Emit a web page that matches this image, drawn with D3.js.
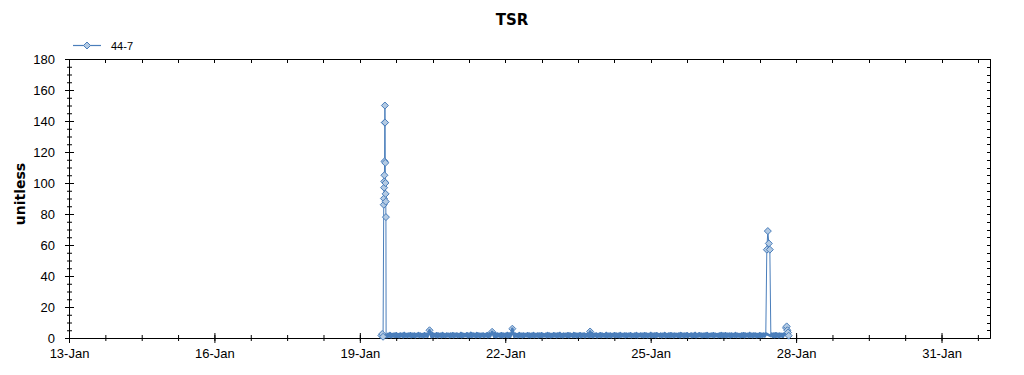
<!DOCTYPE html>
<meta charset="utf-8">
<script src="https://d3js.org/d3.v7.min.js"></script>
<style>
body { margin: 0; background: #fff; }
svg { font-family: 'Liberation Sans', Arial, sans-serif; }
</style>
<body>
<div id="chart"></div>
<script>
// series "44-7"
var seriesName = '44-7';

// first spike, irregular times
var spike1Times = ['19-Jan 10:40', '19-Jan 11:05', '19-Jan 11:30', '19-Jan 11:50', '19-Jan 11:55', '19-Jan 12:00',
    '19-Jan 12:05', '19-Jan 12:10', '19-Jan 12:15', '19-Jan 12:20', '19-Jan 12:25', '19-Jan 12:30',
    '19-Jan 12:35', '19-Jan 12:40', '19-Jan 12:45', '19-Jan 12:50', '19-Jan 12:55'];
var spike1Values = [1.6, 2.6, 0.8, 86, 90, 97, 101, 105, 114, 139, 150, 139, 113, 100, 93, 88, 78];

// half-hourly readings from 19-Jan 13:00 (one row per day)
var bandStart = '19-Jan 13:00';
var bandValues = [
    2.9,0.6,2.7,0.9,3.1,0.5,2.6,1.0, 2.8,0.7,3.0,0.8,2.5,0.6,2.9,1.1, 2.7,0.5,3.2,0.9,2.6,0.7,2.8,1.0,
    3.0,0.6,2.7,0.8,2.9,0.5,2.6,1.1, 3.1,0.7,2.8,0.9,2.5,0.6,3.0,1.0, 2.7,0.8,2.9,5.0,2.6,0.6,3.1,0.9,
    2.6,0.9,3.0,0.5,2.8,1.0,2.7,0.6, 3.1,0.8,2.5,0.7,2.9,1.1,2.6,0.5, 2.8,0.9,3.0,0.6,2.7,1.0,2.9,0.7,
    2.5,0.8,3.2,0.6,2.8,0.9,2.6,1.1, 3.0,0.5,2.7,0.8,3.3,0.7,2.9,1.0, 2.6,0.6,3.1,0.9,2.8,0.5,2.7,1.0,
    2.9,0.7,2.6,1.0,3.0,0.6,2.8,0.9, 2.7,4.0,2.5,0.8,3.1,0.6,2.9,1.1, 2.6,0.7,3.0,0.5,2.8,0.9,2.7,1.0,
    3.2,0.6,2.9,0.8,2.6,6.0,3.0,0.7, 2.8,1.0,2.5,0.6,3.1,0.9,2.7,0.5, 2.9,0.8,2.6,1.1,3.0,0.7,2.8,0.6,
    2.7,0.9,3.1,0.6,2.6,1.0,2.9,0.5, 2.8,0.8,3.0,0.7,2.5,1.1,2.7,0.6, 3.1,0.9,2.8,0.5,2.6,0.8,3.0,1.0,
    2.7,0.6,2.9,0.9,3.2,0.7,2.6,0.5, 2.8,1.0,2.7,0.8,3.0,0.6,2.9,1.1, 2.5,0.7,3.1,0.9,2.8,0.6,2.7,1.0,
    3.0,0.6,2.7,0.9,2.9,0.5,2.6,1.0, 2.8,0.7,4.2,0.8,3.1,0.6,2.7,1.1, 2.9,0.5,2.6,0.9,3.0,0.7,2.8,1.0,
    2.5,0.8,3.2,0.6,2.7,0.9,2.9,0.5, 2.6,1.1,3.0,0.7,2.8,0.8,2.7,0.6, 3.1,0.9,2.6,1.0,2.9,0.5,2.8,0.8,
    2.7,1.0,3.0,0.6,2.5,0.9,2.8,0.7, 3.1,0.5,2.6,1.1,2.9,0.8,2.7,0.6, 3.0,0.9,2.8,0.5,2.6,1.0,3.2,0.7,
    2.7,0.8,2.9,0.6,3.0,1.1,2.5,0.9, 2.8,0.6,2.7,1.0,3.1,0.5,2.6,0.8, 2.9,0.7,3.0,0.9,2.7,0.6,2.8,1.0,
    2.6,0.8,2.9,0.5,3.1,1.0,2.7,0.6, 2.8,0.9,3.0,0.7,2.5,1.1,2.9,0.6, 2.7,0.8,3.2,0.5,2.6,0.9,3.0,1.0,
    2.8,0.6,2.7,0.8,2.9,0.7,3.1,0.5, 2.6,1.0,2.8,0.9,3.0,0.6,2.7,1.1, 2.5,0.7,2.9,0.8,3.1,0.6,2.8,0.9,
    3.0,0.6,2.7,1.0,2.8,0.5,2.9,0.8, 2.6,0.9,3.1,0.7,2.7,1.0,2.5,0.6, 2.9,0.8,3.0,0.5,2.8,1.1,2.6,0.7,
    3.2,0.9,2.7,0.6,2.9,1.0,2.8,0.5, 2.6,0.8,3.0,0.7,2.7,0.9,2.8,1.0, 2.9,57,69,61,57,1.2,2.8,0.7,
    2.9,0.6,3.0,0.9,2.7,0.5,2.8,1.0,2.6,0.8,2.9,1.2
];

// last few readings
var tailTimes = ['27-Jan 19:00', '27-Jan 19:20', '27-Jan 19:40', '27-Jan 20:00', '27-Jan 20:20'];
var tailValues = [6.5, 7.5, 5.0, 3.5, 1.5];

var xTickLabels = ['13-Jan', '16-Jan', '19-Jan', '22-Jan', '25-Jan', '28-Jan', '31-Jan'];
var yTickValues = [0, 20, 40, 60, 80, 100, 120, 140, 160, 180];

var parseTime = d3.timeParse('%d-%b %H:%M');
var parseDay = d3.timeParse('%d-%b');

// build the series
var data = [];
spike1Times.forEach(function(t, i) {
    data.push({t: parseTime(t), v: spike1Values[i], top: true});
});
var t0 = parseTime(bandStart);
var band = [];
bandValues.forEach(function(v, i) {
    var p = {t: d3.timeMinute.offset(t0, 30 * i), v: v, top: v > 20, under: v >= 4 && v <= 20};
    data.push(p);
    band.push(p);
});
tailTimes.forEach(function(t, i) {
    data.push({t: parseTime(t), v: tailValues[i], top: true});
});

var margin = {top: 59, right: 34, bottom: 37, left: 69};
var W = 1024, H = 375;
var w = W - margin.left - margin.right;
var h = H - margin.top - margin.bottom;

var svg = d3.select('#chart').append('svg')
    .attr('width', W)
    .attr('height', H);

var x = d3.scaleTime()
    .domain([parseDay('13-Jan'), parseDay('1-Feb')])
    .range([margin.left, margin.left + w]);

var y = d3.scaleLinear()
    .domain([0, 180])
    .range([margin.top + h, margin.top]);

var lineColor = '#4a7ebb';
var markFill = '#b3cae3';

// minor tick positions
var xMinor = [];
for (var d = x.domain()[0]; d <= x.domain()[1]; d = d3.timeHour.offset(d, 18)) xMinor.push(d);
var yMinor = d3.range(0, 181, 5);
var xMajor = xTickLabels.map(function(s) { return parseDay(s); });

// title
svg.append('text')
    .text('TSR')
    .attr('x', 512)
    .attr('y', 25)
    .attr('text-anchor', 'middle')
    .style('font', 'bold 15px "DejaVu Sans", sans-serif');

// y label
svg.append('text')
    .text('unitless')
    .attr('transform', 'translate(25,194) rotate(-90)')
    .attr('text-anchor', 'middle')
    .style('font', 'bold 14px "DejaVu Sans", sans-serif');

// frame: top and right borders with inward ticks
var frame = svg.append('g').attr('stroke', '#000').attr('stroke-width', 1);
frame.append('line')
    .attr('x1', margin.left).attr('x2', margin.left + w + 0.5)
    .attr('y1', margin.top + 0.5).attr('y2', margin.top + 0.5);
frame.append('line')
    .attr('x1', margin.left + w + 0.5).attr('x2', margin.left + w + 0.5)
    .attr('y1', margin.top).attr('y2', margin.top + h + 0.5);
frame.selectAll('.tt')
    .data(xMinor)
    .enter()
    .append('line')
    .attr('x1', function(d) { return Math.round(x(d)) + 0.5; })
    .attr('x2', function(d) { return Math.round(x(d)) + 0.5; })
    .attr('y1', margin.top)
    .attr('y2', margin.top + 4);
frame.selectAll('.rt')
    .data(yMinor)
    .enter()
    .append('line')
    .attr('y1', function(d) { return Math.round(y(d)) + 0.5; })
    .attr('y2', function(d) { return Math.round(y(d)) + 0.5; })
    .attr('x1', margin.left + w - 3)
    .attr('x2', margin.left + w + 0.5);

// x axis
var xMinorAxis = svg.append('g')
    .attr('transform', 'translate(0,' + (margin.top + h) + ')')
    .call(d3.axisBottom(x).tickValues(xMinor).tickSize(3).tickFormat(''));
xMinorAxis.select('.domain').remove();
xMinorAxis.selectAll('.tick line').attr('y1', -3);

var xAxis = svg.append('g')
    .attr('transform', 'translate(0,' + (margin.top + h) + ')')
    .call(d3.axisBottom(x).tickValues(xMajor).tickSize(5).tickSizeOuter(0).tickFormat(d3.timeFormat('%d-%b')));
xAxis.selectAll('.tick line').attr('y1', -5);
xAxis.selectAll('text')
    .attr('y', 11)
    .style('font', '13px "Liberation Sans", Arial, sans-serif')
    .attr('fill', '#000');

// y axis
var yMinorAxis = svg.append('g')
    .attr('transform', 'translate(' + margin.left + ',0)')
    .call(d3.axisLeft(y).tickValues(yMinor).tickSize(2).tickFormat(''));
yMinorAxis.select('.domain').remove();
yMinorAxis.selectAll('.tick line').attr('x1', 3);

var yAxis = svg.append('g')
    .attr('transform', 'translate(' + margin.left + ',0)')
    .call(d3.axisLeft(y).tickValues(yTickValues).tickSize(4).tickSizeOuter(0));
yAxis.selectAll('.tick line').attr('x1', 5);
yAxis.selectAll('text')
    .attr('x', -14)
    .style('font', '13px "Liberation Sans", Arial, sans-serif')
    .attr('fill', '#000');

var diamond = 'M0,-3.5L3.5,0L0,3.5L-3.5,0Z';

function markers(sel) {
    sel.append('path')
        .attr('d', diamond)
        .attr('transform', function(d) { return 'translate(' + x(d.t) + ',' + y(d.v) + ')'; })
        .attr('fill', markFill)
        .attr('stroke', lineColor)
        .attr('stroke-width', 1);
}

// markers partly hidden by the line
svg.append('g').selectAll('g')
    .data(data.filter(function(d) { return d.under; }))
    .enter()
    .call(markers);

var line = d3.line()
    .x(function(d) { return x(d.t); })
    .y(function(d) { return y(d.v); });

svg.append('path')
    .datum(data)
    .attr('fill', 'none')
    .attr('stroke', lineColor)
    .attr('stroke-width', 1)
    .attr('d', line);

// the dense half-hourly stretch merges into a solid band
svg.append('path')
    .datum(band.filter(function(d) { return d.v < 20; }))
    .attr('fill', 'none')
    .attr('stroke', lineColor)
    .attr('stroke-width', 2.6)
    .attr('stroke-linejoin', 'round')
    .attr('d', line);

svg.append('g').selectAll('g')
    .data(data.filter(function(d) { return d.top; }))
    .enter()
    .call(markers);

// legend
var legend = svg.append('g').attr('transform', 'translate(73,45)');
legend.append('line')
    .attr('x1', 0).attr('x2', 28)
    .attr('y1', 0.5).attr('y2', 0.5)
    .attr('stroke', lineColor)
    .attr('stroke-width', 1.2);
legend.append('path')
    .attr('d', diamond)
    .attr('transform', 'translate(14,0.5)')
    .attr('fill', markFill)
    .attr('stroke', lineColor);
legend.append('text')
    .text(seriesName)
    .attr('x', 38)
    .attr('y', 4.5)
    .style('font', '11px "Liberation Sans", Arial, sans-serif');
</script>
</body>
